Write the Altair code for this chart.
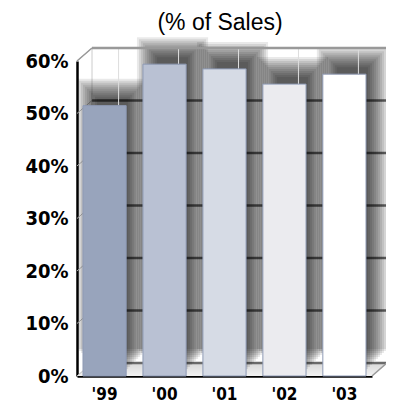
import altair as alt
import pandas as pd

# ---- data ----
years = ["'99", "'00", "'01", "'02", "'03"]
values = [51.5, 59.4, 58.5, 55.6, 57.5]
bar_colors = ["#98A4BC", "#B9C1D3", "#D6DBE5", "#EBEBEF", "#FFFFFF"]
tick_values = [0, 10, 20, 30, 40, 50, 60]
subtitle = "(% of Sales)"

# ---- layout ----
W, H = 295, 315
DX, DY = 15, 13
SDX = 8
PI, PO = 0.28, 0.10
step = W / (len(years) - PI + 2 * PO)
BW = step * (1 - PI)

bars = pd.DataFrame({"year": years, "value": values, "color": bar_colors})
ticks = pd.DataFrame({"v": tick_values})
grid = pd.DataFrame({"v": tick_values[:-1]})
top = pd.DataFrame({"v": [tick_values[-1]]})

x_scale = alt.Scale(domain=years, paddingInner=PI, paddingOuter=PO)
y_scale = alt.Scale(domain=[0, 60], nice=False)

x_axis = alt.Axis(labelAngle=0, ticks=False, domainColor="#000000",
                  domainWidth=2.5, labelFont="DejaVu Sans Condensed",
                  labelFontWeight="bold", labelFontSize=17, labelColor="#000000",
                  labelPadding=10, grid=False)
y_axis = alt.Axis(values=tick_values, labelExpr="datum.value + '%'", ticks=False,
                  domainColor="#000000", domainWidth=2.5, labelFont="DejaVu Sans Condensed",
                  labelFontWeight="bold", labelFontSize=20, labelColor="#000000",
                  labelPadding=9, grid=False)

xa = alt.X("year:N", scale=x_scale, sort=years, title=None, axis=x_axis)
ya = alt.Y("value:Q", scale=y_scale, title=None, axis=y_axis)
yv = alt.Y("v:Q", scale=y_scale, title=None, axis=y_axis)

# floor parallelogram (pixel path relative to its anchor point)
floor_path = f"M0,0 L{W},0 L{W+DX},{-DY} L{DX},{-DY} Z"
floor = alt.Chart(top).mark_point(
    shape=floor_path, size=4, filled=True, opacity=1, strokeWidth=0,
    fill=alt.Gradient(gradient="linear", x1=0, y1=0, x2=0, y2=1,
                      stops=[alt.GradientStop(color="#d8d8d8", offset=0),
                             alt.GradientStop(color="#f2f2f2", offset=1)])
).encode(x=alt.value(0), y=alt.value(H))

floor_edge = alt.Chart(top).mark_rule(color="#999999", strokeWidth=1.5).encode(
    x=alt.value(W), x2=alt.value(W + DX), y=alt.value(H), y2=alt.value(H - DY))

back_left = alt.Chart(top).mark_rule(color="#cccccc", strokeWidth=1).encode(
    x=alt.value(DX), y=alt.value(-DY), y2=alt.value(H - DY))

wall_diag = alt.Chart(ticks).mark_rule(color="#bbbbbb", strokeWidth=1, y2Offset=-DY).encode(
    y=yv, y2="v:Q", x=alt.value(0), x2=alt.value(DX))

gridlines = alt.Chart(grid).mark_rule(color="#6a6a6a", strokeWidth=2.5, yOffset=-DY).encode(
    y=yv, x=alt.value(DX), x2=alt.value(W + DX))

top_edge = alt.Chart(top).mark_rule(color="#999999", strokeWidth=2.5, yOffset=-DY).encode(
    y=yv, x=alt.value(DX), x2=alt.value(W + DX))
top_diag = alt.Chart(top).mark_rule(color="#999999", strokeWidth=1.5, y2Offset=-DY).encode(
    y=yv, y2="v:Q", x=alt.value(0), x2=alt.value(DX))

# blurred drop shadows: stacked translucent rects
shadow_layers = []
for e in [14, 12, 10, 8, 6, 4, 2, 0, -2, -4, -6]:
    shadow_layers.append(
        alt.Chart(bars).mark_bar(
            width=BW + 2 * e, xOffset=SDX, yOffset=-DY - e, y2Offset=-(DY + 11) + e,
            color="#000000", opacity=0.085
        ).encode(x=xa, y=ya)
    )

back_lines = alt.Chart(bars).mark_rule(color="#dddddd", strokeWidth=1, xOffset=14).encode(
    x=xa, y=ya, y2=alt.value(-DY))

bar_layer = alt.Chart(bars).mark_bar(stroke="#8E9AB5", strokeWidth=1).encode(
    x=xa, y=ya, color=alt.Color("color:N", scale=None))

title = alt.Chart(top).mark_text(
    text=subtitle, font="Liberation Sans", fontSize=23, color="#000000",
    align="center", baseline="alphabetic"
).encode(x=alt.value(143), y=alt.value(-31))

chart = alt.layer(
    floor, back_left, wall_diag, gridlines, *shadow_layers, back_lines,
    top_edge, top_diag, floor_edge, bar_layer, title
).properties(
    width=W, height=H,
    autosize=alt.AutoSizeParams(type="none"),
    padding={"left": 69, "top": 53, "right": 14, "bottom": 26},
).configure_view(strokeWidth=0)

chart.save("out.html", embed_options={"renderer": "svg", "actions": False})
